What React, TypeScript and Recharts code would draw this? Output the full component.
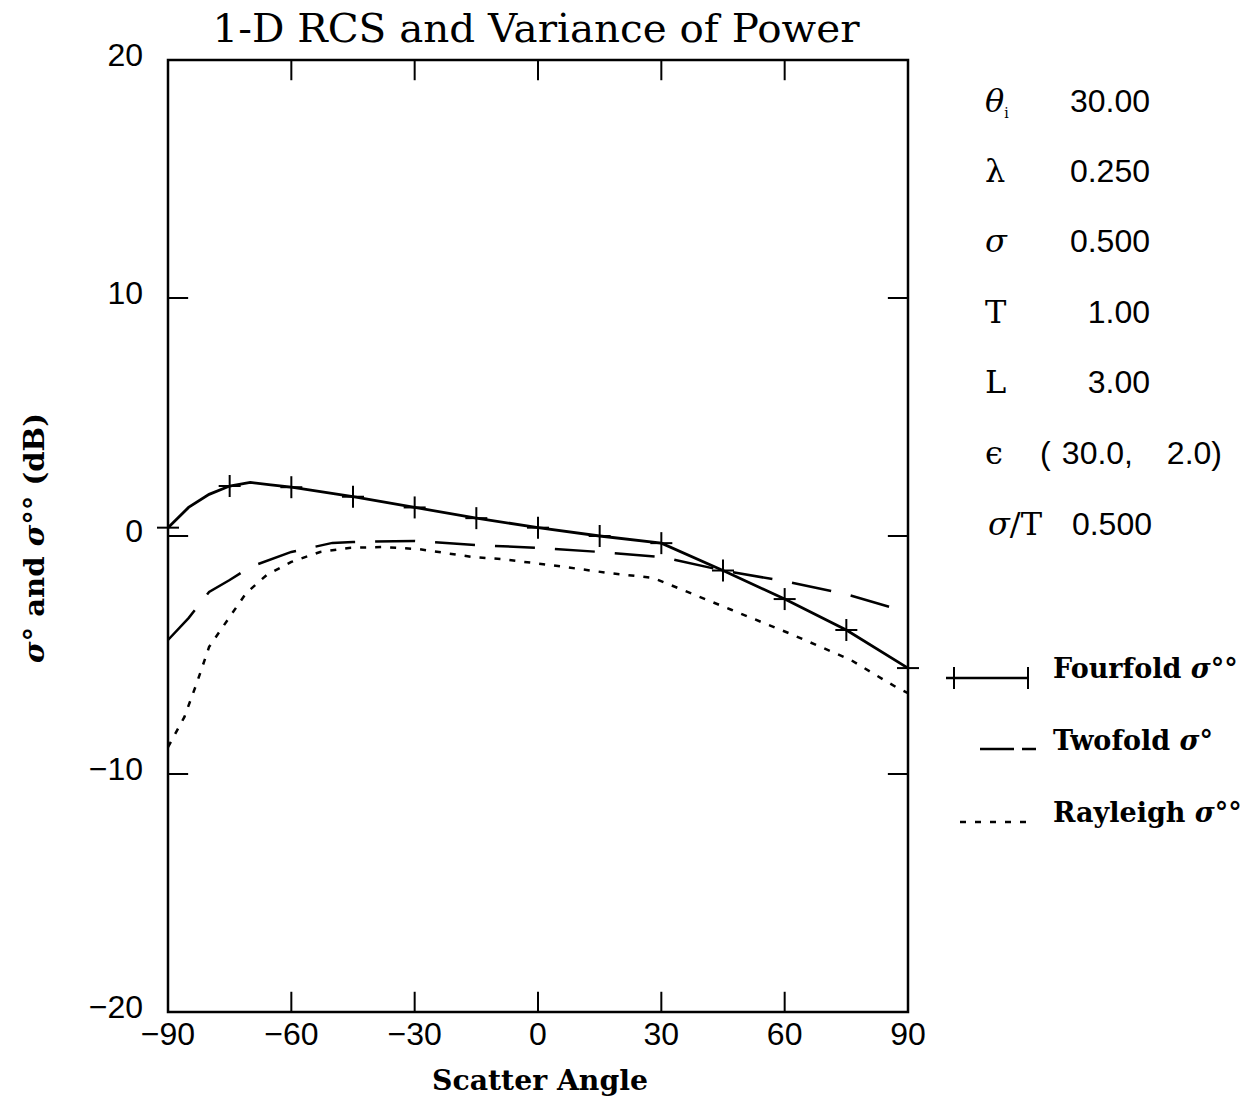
import React from 'react';
import { LineChart, Line, XAxis, YAxis, ReferenceArea, ReferenceLine } from 'recharts';

const xTicks = [-90, -60, -30, 0, 30, 60, 90];
const yTicks = [-20, -10, 0, 10, 20];
const innerXTicks = [-60, -30, 0, 30, 60];
const innerYTicks = [-10, 0, 10];

const fourfold = [
  { x: -90, y: 0.35 }, { x: -85, y: 1.2 }, { x: -80, y: 1.75 }, { x: -75, y: 2.1 },
  { x: -70, y: 2.25 }, { x: -65, y: 2.15 }, { x: -60, y: 2.05 }, { x: -45, y: 1.65 },
  { x: -30, y: 1.2 }, { x: -15, y: 0.75 }, { x: 0, y: 0.35 }, { x: 15, y: 0.0 },
  { x: 30, y: -0.3 }, { x: 45, y: -1.45 }, { x: 60, y: -2.65 }, { x: 75, y: -3.95 },
  { x: 90, y: -5.55 },
];

const twofold = [
  { x: -90, y: -4.37 }, { x: -85, y: -3.45 }, { x: -80, y: -2.35 }, { x: -75, y: -1.85 },
  { x: -70, y: -1.3 }, { x: -60, y: -0.67 }, { x: -50, y: -0.29 }, { x: -45, y: -0.25 },
  { x: -30, y: -0.21 }, { x: -15, y: -0.38 }, { x: 0, y: -0.5 }, { x: 15, y: -0.67 },
  { x: 30, y: -0.88 }, { x: 45, y: -1.45 }, { x: 60, y: -1.9 }, { x: 75, y: -2.45 },
  { x: 90, y: -3.2 },
];

const rayleigh = [
  { x: -90, y: -8.87 }, { x: -86, y: -7.6 }, { x: -83, y: -6.18 }, { x: -80, y: -4.66 },
  { x: -75, y: -3.4 }, { x: -71, y: -2.4 }, { x: -66, y: -1.64 }, { x: -60, y: -1.09 },
  { x: -53, y: -0.67 }, { x: -46, y: -0.5 }, { x: -38, y: -0.46 }, { x: -29, y: -0.55 },
  { x: -16, y: -0.88 }, { x: -9, y: -0.97 }, { x: 3, y: -1.22 }, { x: 17, y: -1.55 },
  { x: 28, y: -1.76 }, { x: 31, y: -1.97 }, { x: 47, y: -3.1 }, { x: 61, y: -4.08 },
  { x: 76, y: -5.2 }, { x: 87, y: -6.34 }, { x: 90, y: -6.6 },
];

const paramValues = ['30.00', '0.250', '0.500', '1.00', '3.00'];

const TICK_LEN_Y = 0.85; // data units for vertical frame ticks
const TICK_LEN_X = 4.9; // data units for horizontal frame ticks

const SERIF = "'DejaVu Serif', 'Liberation Serif', serif";
const SANS = "'Liberation Sans', Arial, sans-serif";

const fmt = (v: number) => (v < 0 ? `\u2212${Math.abs(v)}` : `${v}`);

const crossDot = (props: any) => {
  const { cx, cy, payload, index } = props;
  if (payload == null || payload.x % 15 !== 0) return <g key={`d${index}`} />;
  return (
    <g key={`d${index}`}>
      <line x1={cx} y1={cy - 11} x2={cx} y2={cy + 11} stroke="#000" strokeWidth={2} />
      <line x1={cx - 11} y1={cy} x2={cx + 11} y2={cy} stroke="#000" strokeWidth={2} />
    </g>
  );
};

const YTick = (props: any) => {
  const { x, y, payload } = props;
  return (
    <text x={x} y={y - 5} textAnchor="end" dominantBaseline="central" fontSize={32} fontFamily={SANS} fill="#000">
      {fmt(payload.value)}
    </text>
  );
};

const XTick = (props: any) => {
  const { x, y, payload } = props;
  return (
    <text x={x} y={y + 23} textAnchor="middle" fontSize={32} fontFamily={SANS} fill="#000">
      {fmt(payload.value)}
    </text>
  );
};

const Sig = () => <tspan fontStyle="italic">σ</tspan>;

export default function App() {
  const rowY = [112, 182, 252, 323, 393, 464, 535];
  return (
    <div style={{ position: 'absolute', left: 0, top: 0, width: 1246, height: 1096, background: '#fff' }}>
      <div style={{ position: 'absolute', left: 0, top: 0 }}>
        <LineChart width={1246} height={1096} margin={{ top: 60, right: 338, bottom: 44, left: 108 }}>
          <XAxis
            type="number"
            dataKey="x"
            domain={[-90, 90]}
            ticks={xTicks}
            axisLine={false}
            tickLine={false}
            height={40}
            tickMargin={4}
            interval={0}
            tick={<XTick />}
          />
          <YAxis
            type="number"
            domain={[-20, 20]}
            ticks={yTicks}
            axisLine={false}
            tickLine={false}
            width={60}
            tickMargin={19}
            interval={0}
            tick={<YTick />}
          />
          <ReferenceArea x1={-90} x2={90} y1={-20} y2={20} fill="none" stroke="#000" strokeWidth={2.5} fillOpacity={0} />
          {innerXTicks.map((t) => (
            <ReferenceLine key={`bt${t}`} segment={[{ x: t, y: -20 }, { x: t, y: -20 + TICK_LEN_Y }]} stroke="#000" strokeWidth={2} />
          ))}
          {innerXTicks.map((t) => (
            <ReferenceLine key={`tt${t}`} segment={[{ x: t, y: 20 }, { x: t, y: 20 - TICK_LEN_Y }]} stroke="#000" strokeWidth={2} />
          ))}
          {innerYTicks.map((t) => (
            <ReferenceLine key={`lt${t}`} segment={[{ x: -90, y: t }, { x: -90 + TICK_LEN_X, y: t }]} stroke="#000" strokeWidth={2} />
          ))}
          {innerYTicks.map((t) => (
            <ReferenceLine key={`rt${t}`} segment={[{ x: 90, y: t }, { x: 90 - TICK_LEN_X, y: t }]} stroke="#000" strokeWidth={2} />
          ))}
          <Line data={rayleigh} dataKey="y" type="linear" stroke="#000" strokeWidth={2.5} strokeDasharray="6 9" dot={false} isAnimationActive={false} />
          <Line data={twofold} dataKey="y" type="linear" stroke="#000" strokeWidth={2.5} strokeDasharray="40 20" dot={false} isAnimationActive={false} />
          <Line data={fourfold} dataKey="y" type="linear" stroke="#000" strokeWidth={2.8} dot={crossDot} isAnimationActive={false} />
        </LineChart>
      </div>
      <svg width={1246} height={1096} style={{ position: 'absolute', left: 0, top: 0, pointerEvents: 'none' }}>
        <text x={536} y={42} textAnchor="middle" fontFamily={SERIF} fontSize={39} textLength={647} lengthAdjust="spacingAndGlyphs" fill="#000">
          1-D RCS and Variance of Power
        </text>
        <text x={540} y={1090} textAnchor="middle" fontFamily={SERIF} fontWeight="bold" fontSize={28} textLength={216} lengthAdjust="spacingAndGlyphs" fill="#000">
          Scatter Angle
        </text>
        <text x={0} y={0} transform="translate(44,538) rotate(-90)" textAnchor="middle" fontFamily={SERIF} fontWeight="bold" fontSize={28} textLength={250} lengthAdjust="spacingAndGlyphs" fill="#000">
          <Sig />° and <Sig />°° (dB)
        </text>

        {/* parameters */}
        <g fontSize={32} fill="#000">
          <text x={985} y={rowY[0]} fontFamily={SERIF} fontStyle="italic">θ<tspan fontSize={14} dy={6} fontStyle="normal">i</tspan></text>
          <text x={985} y={rowY[1]} fontFamily={SERIF}>λ</text>
          <text x={985} y={rowY[2]} fontFamily={SERIF} fontStyle="italic">σ</text>
          <text x={985} y={rowY[3]} fontFamily={SERIF}>T</text>
          <text x={985} y={rowY[4]} fontFamily={SERIF}>L</text>
          <text x={985} y={rowY[5]} fontFamily={SERIF}>ϵ</text>
          {paramValues.map((v, i) => (
            <text key={v + i} x={1150} y={rowY[i]} textAnchor="end" fontFamily={SANS}>{v}</text>
          ))}
          <text x={1040} y={rowY[5]} fontFamily={SANS}>(</text>
          <text x={1133} y={rowY[5]} textAnchor="end" fontFamily={SANS}>30.0,</text>
          <text x={1222} y={rowY[5]} textAnchor="end" fontFamily={SANS}>2.0)</text>
          <text x={988} y={rowY[6]} fontFamily={SERIF}><tspan fontStyle="italic">σ</tspan>/T</text>
          <text x={1152} y={rowY[6]} textAnchor="end" fontFamily={SANS}>0.500</text>
        </g>

        {/* legend */}
        <g stroke="#000">
          <line x1={946} y1={678} x2={1028} y2={678} strokeWidth={2.5} />
          <line x1={954} y1={667} x2={954} y2={689} strokeWidth={2} />
          <line x1={1028} y1={667} x2={1028} y2={689} strokeWidth={2} />
          <line x1={980} y1={749} x2={1036} y2={749} strokeWidth={2.5} strokeDasharray="34 8" />
          <line x1={960} y1={822} x2={1028} y2={822} strokeWidth={2.5} strokeDasharray="6 9" />
        </g>
        <g fontFamily={SERIF} fontWeight="bold" fontSize={27} fill="#000">
          <text x={1053} y={678}>Fourfold <Sig />°°</text>
          <text x={1053} y={750}>Twofold <Sig />°</text>
          <text x={1053} y={822}>Rayleigh <Sig />°°</text>
        </g>
      </svg>
    </div>
  );
}
